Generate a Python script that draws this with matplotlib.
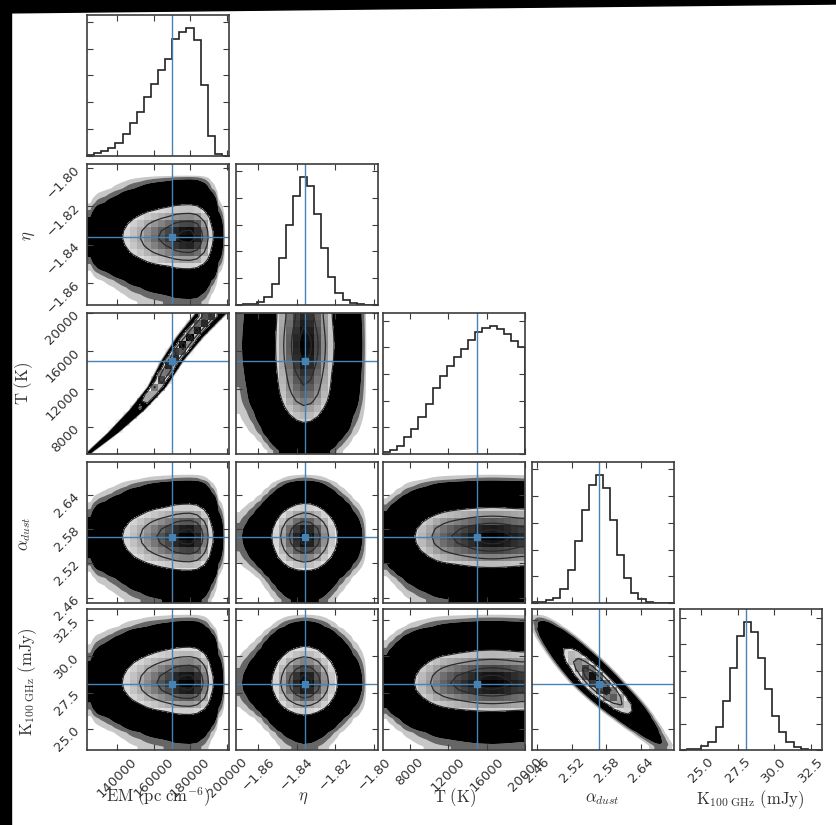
import numpy as np
import matplotlib
matplotlib.use("Agg")
import matplotlib.pyplot as plt
from matplotlib.colors import LinearSegmentedColormap
from matplotlib.patches import Polygon
from matplotlib.ticker import MaxNLocator

plt.rcParams['mathtext.fontset'] = 'cm'
plt.rcParams['font.family'] = ['DejaVu Sans']

# ---------------- data ----------------
labels_x = [r'$\mathrm{EM\ (pc\ cm^{-6})}$', r'$\eta$', r'$\mathrm{T\ (K)}$',
            r'$\alpha_{dust}$', r'$\mathrm{K_{100\ GHz}\ (mJy)}$']

em_range = [123650, 201100]
eta_range = [-1.8715, -1.798]
t_range = [5200, 20000]
alpha_range = [2.451, 2.697]
k_range = [23.57, 33.25]

em_truth = 170000
eta_truth = -1.836
t_truth = 15000
alpha_truth = 2.567
k_truth = 28.1

# 20-bin marginal histograms (relative heights)
em_hist = [3, 10, 15, 25, 40, 65, 98, 130, 175, 215, 255, 290, 348, 370, 382, 345, 212, 60, 5, 0]
eta_hist = [1, 2, 4, 9, 25, 63, 140, 240, 325, 383, 355, 273, 170, 85, 35, 15, 5, 2, 0, 0]
t_hist = [5, 12, 25, 50, 75, 110, 150, 198, 235, 265, 290, 315, 342, 365, 378, 385, 375, 360, 340, 322]
alpha_hist = [2, 4, 8, 16, 41, 98, 186, 280, 353, 384, 344, 249, 144, 74, 30, 11, 4, 1, 0, 0]
k_hist = [1, 2, 4, 11, 25, 70, 148, 248, 345, 387, 355, 277, 185, 103, 53, 25, 10, 3, 1, 0]

em_ticks = [140000, 160000, 180000, 200000]
eta_ticks = [-1.86, -1.84, -1.82, -1.80]
t_ticks = [8000, 12000, 16000, 20000]
alpha_ticks = [2.46, 2.52, 2.58, 2.64]
k_ticks = [25.0, 27.5, 30.0, 32.5]

em_ticklabels = ['140000', '160000', '180000', '200000']
eta_ticklabels = ['\u22121.86', '\u22121.84', '\u22121.82', '\u22121.80']
t_ticklabels = ['8000', '12000', '16000', '20000']
alpha_ticklabels = ['2.46', '2.52', '2.58', '2.64']
k_ticklabels = ['25.0', '27.5', '30.0', '32.5']

# EM-T degeneracy ridge (EM centre of the band at given T, and its width)
ridge_T = [5200, 7410, 9820, 12240, 15070, 17480, 20000]
ridge_EM = [124000, 137800, 150900, 161800, 170500, 179800, 191500]
ridge_EM_width = [850, 1050, 1300, 1500, 1750, 2100, 2500]

# alpha_dust - K degeneracy ridge
ridge_K = [23.9, 28.1, 33.0]
ridge_alpha = [2.674, 2.567, 2.456]
ridge_alpha_width = 0.013

hists = [em_hist, eta_hist, t_hist, alpha_hist, k_hist]
ranges = [em_range, eta_range, t_range, alpha_range, k_range]
truths = [em_truth, eta_truth, t_truth, alpha_truth, k_truth]
ticks = [em_ticks, eta_ticks, t_ticks, alpha_ticks, k_ticks]
ticklabels = [em_ticklabels, eta_ticklabels, t_ticklabels, alpha_ticklabels, k_ticklabels]

# ---------------- layout ----------------
W, H = 837, 825
fig = plt.figure(figsize=(W / 100, H / 100), dpi=100)
fig.patch.set_facecolor('white')

col_left = [87, 236, 383, 532, 680]
row_top = [15, 164, 313, 462, 609]
pw, ph = 142, 141

truth_color = '#4682b4'
frame_color = '#3c3c3c'
nb = 20
nsub = 10


def edges(i):
    lo, hi = ranges[i]
    return np.linspace(lo, hi, nb + 1)


def centers(i):
    e = edges(i)
    return 0.5 * (e[1:] + e[:-1])


def fine_axis(i):
    lo, hi = ranges[i]
    n = nb * nsub
    step = (hi - lo) / n
    return lo + step * (np.arange(n) + 0.5)


def marg(i, v):
    h = np.asarray(hists[i], float)
    h = h / h.max()
    return np.interp(v, centers(i), h, left=h[0], right=h[-1])


def density(j, i, X, Y):
    if (j, i) == (0, 2):
        r = np.interp(Y, ridge_T, ridge_EM)
        w = np.interp(Y, ridge_T, ridge_EM_width)
        return marg(2, Y) * np.exp(-0.5 * ((X - r) / w) ** 2)
    if (j, i) == (3, 4):
        r = np.interp(Y, ridge_K, ridge_alpha)
        return marg(4, Y) * np.exp(-0.5 * ((X - r) / ridge_alpha_width) ** 2)
    return marg(j, X) * marg(i, Y)


def style_axes(ax):
    for s in ax.spines.values():
        s.set_color(frame_color)
        s.set_linewidth(1.2)
    ax.tick_params(direction='in', length=4, width=0.8, color=frame_color,
                   top=True, right=True, labelsize=9.5, labelcolor='#333333')


def add_axes(r, c):
    l = col_left[c]
    t = row_top[r]
    return fig.add_axes([l / W, 1 - (t + ph) / H, pw / W, ph / H])


gray_alpha = LinearSegmentedColormap.from_list('ga', [(0, 0, 0, 0), (0, 0, 0, 1)])
lev_frac = 1.0 - np.exp(-0.5 * np.arange(0.5, 2.1, 0.5) ** 2)

for i in range(5):
    for j in range(i + 1):
        ax = add_axes(i, j)
        style_axes(ax)
        if i == j:
            h = np.asarray(hists[i], float)
            ax.stairs(h, edges(i), color='#222222', lw=1.2)
            ax.set_xlim(ranges[i])
            ax.set_ylim(0, 1.1 * h.max())
            ax.axvline(truths[i], color=truth_color, lw=1.0)
            ax.yaxis.set_major_locator(MaxNLocator(7))
            ax.set_yticklabels([])
        else:
            xf = fine_axis(j)
            yf = fine_axis(i)
            XX, YY = np.meshgrid(xf, yf)
            D = density(j, i, XX, YY)
            D = D / D.max()
            # scatter cloud
            ax.contourf(xf, yf, D, levels=[8e-4, 1.8e-3, 3.5e-3, 10],
                        colors=[(0, 0, 0, 0.22), (0, 0, 0, 0.6), (0, 0, 0, 1)],
                        antialiased=True)
            # binned 2D histogram
            Hb = D.reshape(nb, nsub, nb, nsub).mean(axis=(1, 3))
            flat = np.sort(Hb.ravel())[::-1]
            cs = np.cumsum(flat)
            cs /= cs[-1]
            V = np.array([flat[cs <= f][-1] if np.any(cs <= f) else flat[0] for f in lev_frac])
            V = np.sort(V)
            xc = np.concatenate([[ranges[j][0]], centers(j), [ranges[j][1]]])
            yc = np.concatenate([[ranges[i][0]], centers(i), [ranges[i][1]]])
            Hp = np.pad(Hb, 1, mode='edge')
            ax.contourf(xc, yc, Hp, [V[0], Hp.max() * 1.01], colors=['white'])
            ax.pcolormesh(edges(j), edges(i), Hb, cmap=gray_alpha,
                          vmin=0, vmax=Hb.max(), shading='flat')
            ax.contour(xc, yc, Hp, V, colors='#2a2a2a', linewidths=0.9)
            ax.set_xlim(ranges[j])
            ax.set_ylim(ranges[i])
            ax.axvline(truths[j], color=truth_color, lw=1.0)
            ax.axhline(truths[i], color=truth_color, lw=1.0)
            ax.plot(truths[j], truths[i], 's', color=truth_color, ms=4, mec=truth_color)
            ax.set_yticks(ticks[i])
            if j == 0:
                ax.set_yticklabels(ticklabels[i], rotation=45)
            else:
                ax.set_yticklabels([])
        ax.set_xticks(ticks[j])
        if i == 4:
            ax.set_xticklabels(ticklabels[j], rotation=45)
        else:
            ax.set_xticklabels([])
        ax.set_xlim(ranges[j])

# axis labels
xlab_pos = [(158, 797), (303, 797), (455, 798), (602, 798), (750, 800)]
for k, (x, y) in enumerate(xlab_pos):
    fig.text(x / W, 1 - y / H, labels_x[k], ha='center', va='center',
             fontsize=12, color='#333333')
ylab_pos = [None, (28, 236), (24, 383), (24, 534), (28, 682)]
for k in range(1, 5):
    x, y = ylab_pos[k]
    fig.text(x / W, 1 - y / H, labels_x[k], ha='center', va='center',
             rotation=90, fontsize=12, color='#333333')

# black photo border (top and left)
top_border = Polygon([(0, 1), (1, 1), (1, 1 - 4 / H), (0, 1 - 13 / H)],
                     closed=True, transform=fig.transFigure, color='black', zorder=10)
left_border = Polygon([(0, 0), (11 / W, 0), (11 / W, 1), (0, 1)],
                      closed=True, transform=fig.transFigure, color='black', zorder=10)
fig.patches.extend([top_border, left_border])

fig.savefig('out.png', dpi=100, facecolor='white')
